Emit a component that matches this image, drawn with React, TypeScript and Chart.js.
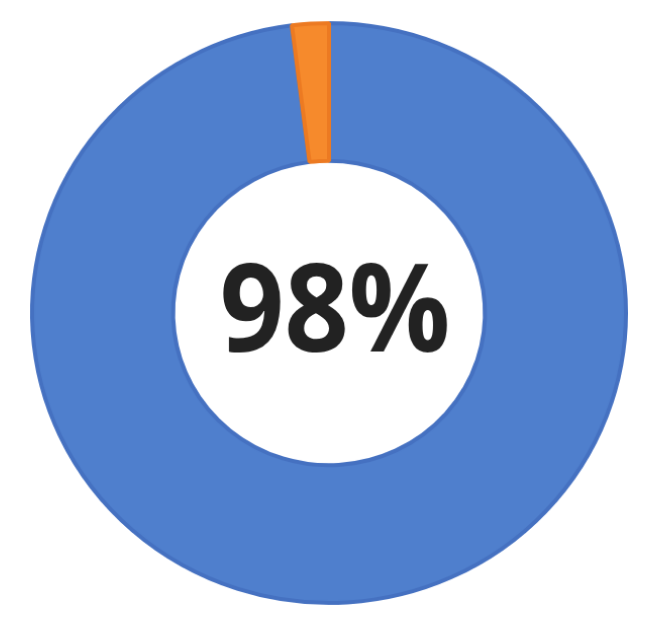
import React, { useEffect, useRef } from 'react';
import { Chart, registerables, Plugin } from 'chart.js';

Chart.register(...registerables);

const labels = ['Done', 'Remaining'];
const values = [98, 2];
const fillColors = ['#4f7fcd', '#f68a2c'];
const edgeColors = ['#4571c1', '#ec7a22'];
const centerLabel = '98%';

// draws the big percentage in the hole
const centerText: Plugin<'doughnut'> = {
  id: 'centerText',
  afterDatasetsDraw(chart) {
    const meta = chart.getDatasetMeta(0);
    const arc = meta.data[0] as any;
    if (!arc) return;
    const { ctx } = chart;
    ctx.save();
    ctx.translate(arc.x + 6, arc.y + 39);
    ctx.scale(0.916, 1.014);
    ctx.font = '700 122px "Open Sans", sans-serif';
    ctx.fillStyle = '#222222';
    ctx.textAlign = 'center';
    ctx.textBaseline = 'alphabetic';
    ctx.fillText(centerLabel, 0, 0);
    ctx.restore();
  },
};

const App: React.FC = () => {
  const canvasRef = useRef<HTMLCanvasElement>(null);

  useEffect(() => {
    if (!canvasRef.current) return;

    const chart = new Chart(canvasRef.current, {
      type: 'doughnut',
      data: {
        labels,
        datasets: [
          {
            data: values,
            backgroundColor: fillColors,
            borderColor: edgeColors,
            borderWidth: 4,
          },
        ],
      },
      options: {
        animation: false,
        responsive: true,
        maintainAspectRatio: false,
        cutout: '52.5%',
        layout: {
          padding: { left: 33, right: 26, top: 17, bottom: 32 },
        },
        plugins: {
          legend: { display: false },
          tooltip: { enabled: false },
        },
      },
      plugins: [centerText],
    });

    return () => {
      chart.destroy();
    };
  }, []);

  // the original ring is a touch wider than tall
  return (
    <div style={{ position: 'absolute', left: 0, top: 0, width: 651, height: 641, background: '#fff', overflow: 'hidden' }}>
      <div style={{ width: 651, height: 641, transform: 'scale(1.01, 0.986)', transformOrigin: '329px 313px' }}>
        <canvas ref={canvasRef} />
      </div>
    </div>
  );
};

export default App;
